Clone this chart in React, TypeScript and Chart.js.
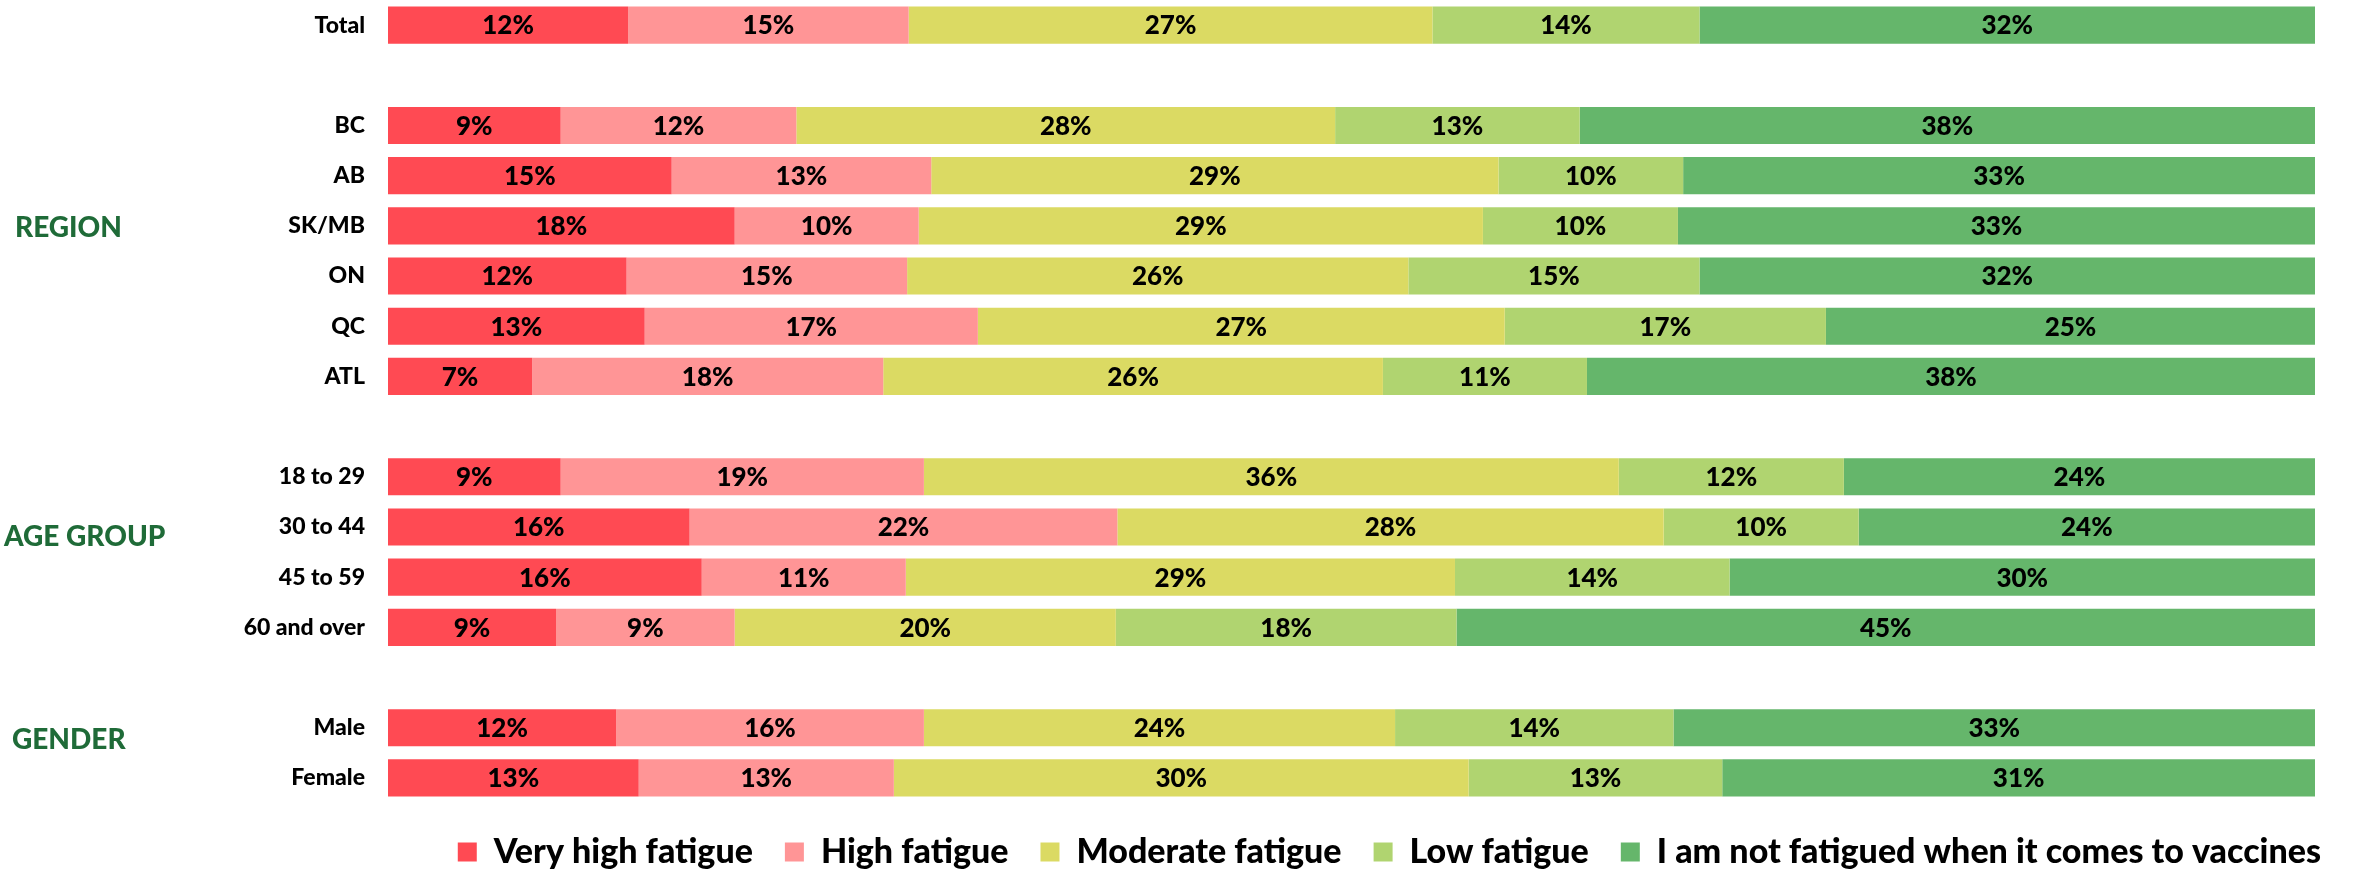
import React, { useEffect, useRef } from "react";
import { Chart, registerables } from "chart.js";

Chart.register(...registerables);

const categories = [
  "Total", "", "BC", "AB", "SK/MB", "ON", "QC", "ATL", "",
  "18 to 29", "30 to 44", "45 to 59", "60 and over", "", "Male", "Female",
];

const seriesNames = [
  "Very high fatigue",
  "High fatigue",
  "Moderate fatigue",
  "Low fatigue",
  "I am not fatigued when it comes to vaccines",
];

const veryHigh = [12.46, null, 8.96, 14.72, 17.99, 12.38, 13.32, 7.48, null, 8.96, 15.65, 16.28, 8.72, null, 11.84, 13.01];
const high = [14.56, null, 12.23, 13.47, 9.55, 14.56, 17.29, 18.22, null, 18.85, 22.2, 10.59, 9.27, null, 15.97, 13.24];
const moderate = [27.18, null, 27.96, 29.44, 29.28, 26.01, 27.34, 25.93, null, 36.06, 28.35, 28.5, 19.78, null, 24.45, 29.83];
const low = [13.86, null, 12.69, 9.58, 10.12, 15.11, 16.67, 10.59, null, 11.68, 10.12, 14.25, 17.68, null, 14.45, 13.16];
const notFatigued = [31.94, null, 38.16, 32.79, 33.06, 31.94, 25.38, 37.78, null, 24.45, 23.68, 30.38, 44.55, null, 33.29, 30.76];

const seriesColors = ["#FF4A53", "#FF9596", "#DBDA63", "#B0D470", "#65B66B"];

const groupLabels = ["REGION", "AGE GROUP", "GENDER"];
const groupRows = [4.05, 10.2, 14.25];
const groupX = [15, 4, 12];

const FONT = "Lato, 'Noto Sans', sans-serif";

const dataLabelPlugin = {
  id: "segmentLabels",
  afterDatasetsDraw(chart: any) {
    const ctx = chart.ctx;
    ctx.save();
    ctx.font = `900 26px ${FONT}`;
    ctx.fillStyle = "#000000";
    ctx.textAlign = "center";
    ctx.textBaseline = "middle";
    chart.data.datasets.forEach((ds: any, di: number) => {
      const meta = chart.getDatasetMeta(di);
      meta.data.forEach((el: any, i: number) => {
        const v = ds.data[i];
        if (v === null || v === undefined) return;
        const { x, base, y } = el.getProps(["x", "base", "y"], true);
        ctx.fillText(`${Math.round(v)}%`, (x + base) / 2, y + 1);
      });
    });
    ctx.restore();
  },
};

const groupLabelPlugin = {
  id: "groupLabels",
  afterDraw(chart: any) {
    const ctx = chart.ctx;
    const yScale = chart.scales.y;
    ctx.save();
    ctx.font = `900 28px ${FONT}`;
    ctx.fillStyle = "#1F6B38";
    ctx.textAlign = "left";
    ctx.textBaseline = "middle";
    groupLabels.forEach((g, i) => {
      ctx.fillText(g, groupX[i], yScale.getPixelForValue(groupRows[i]));
    });
    ctx.restore();
  },
};

export default function App() {
  const canvasRef = useRef<HTMLCanvasElement | null>(null);

  useEffect(() => {
    if (!canvasRef.current) return;
    const allSeries = [veryHigh, high, moderate, low, notFatigued];
    const chart = new Chart(canvasRef.current, {
      type: "bar",
      data: {
        labels: categories,
        datasets: allSeries.map((d, i) => ({
          label: seriesNames[i],
          data: d,
          backgroundColor: seriesColors[i],
          borderWidth: 0,
          barPercentage: 0.74,
          categoryPercentage: 1,
        })),
      },
      options: {
        indexAxis: "y",
        animation: false,
        responsive: false,
        maintainAspectRatio: false,
        layout: { autoPadding: false, padding: { top: 0, right: 0, bottom: -6, left: 0 } },
        scales: {
          x: {
            stacked: true,
            min: 0,
            max: 100,
            display: false,
          },
          y: {
            stacked: true,
            grid: { display: false, drawTicks: false },
            border: { display: false },
            ticks: {
              color: "#000000",
              font: { family: FONT, weight: "900", size: 23 },
              padding: 23,
            },
            afterFit(scale: any) {
              scale.width = 388;
              scale.paddingTop = 0;
              scale.paddingBottom = 0;
            },
          },
          yRight: {
            type: "category",
            position: "right",
            grid: { display: false, drawTicks: false },
            border: { display: false },
            ticks: { display: false },
            afterFit(scale: any) {
              scale.width = 38;
              scale.paddingTop = 0;
              scale.paddingBottom = 0;
            },
          },
        },
        plugins: {
          legend: {
            position: "bottom",
            align: "end",
            labels: {
              color: "#000000",
              font: { family: FONT, weight: "900", size: 34 },
              boxWidth: 19,
              boxHeight: 19,
              padding: 32,
            },
          },
          tooltip: { enabled: false },
        },
      },
      plugins: [dataLabelPlugin, groupLabelPlugin],
    } as any);
    return () => chart.destroy();
  }, []);

  return (
    <div style={{ position: "absolute", left: 0, top: 0, width: 2353, height: 873 }}>
      <canvas ref={canvasRef} width={2353} height={873} style={{ display: "block" }} />
    </div>
  );
}
